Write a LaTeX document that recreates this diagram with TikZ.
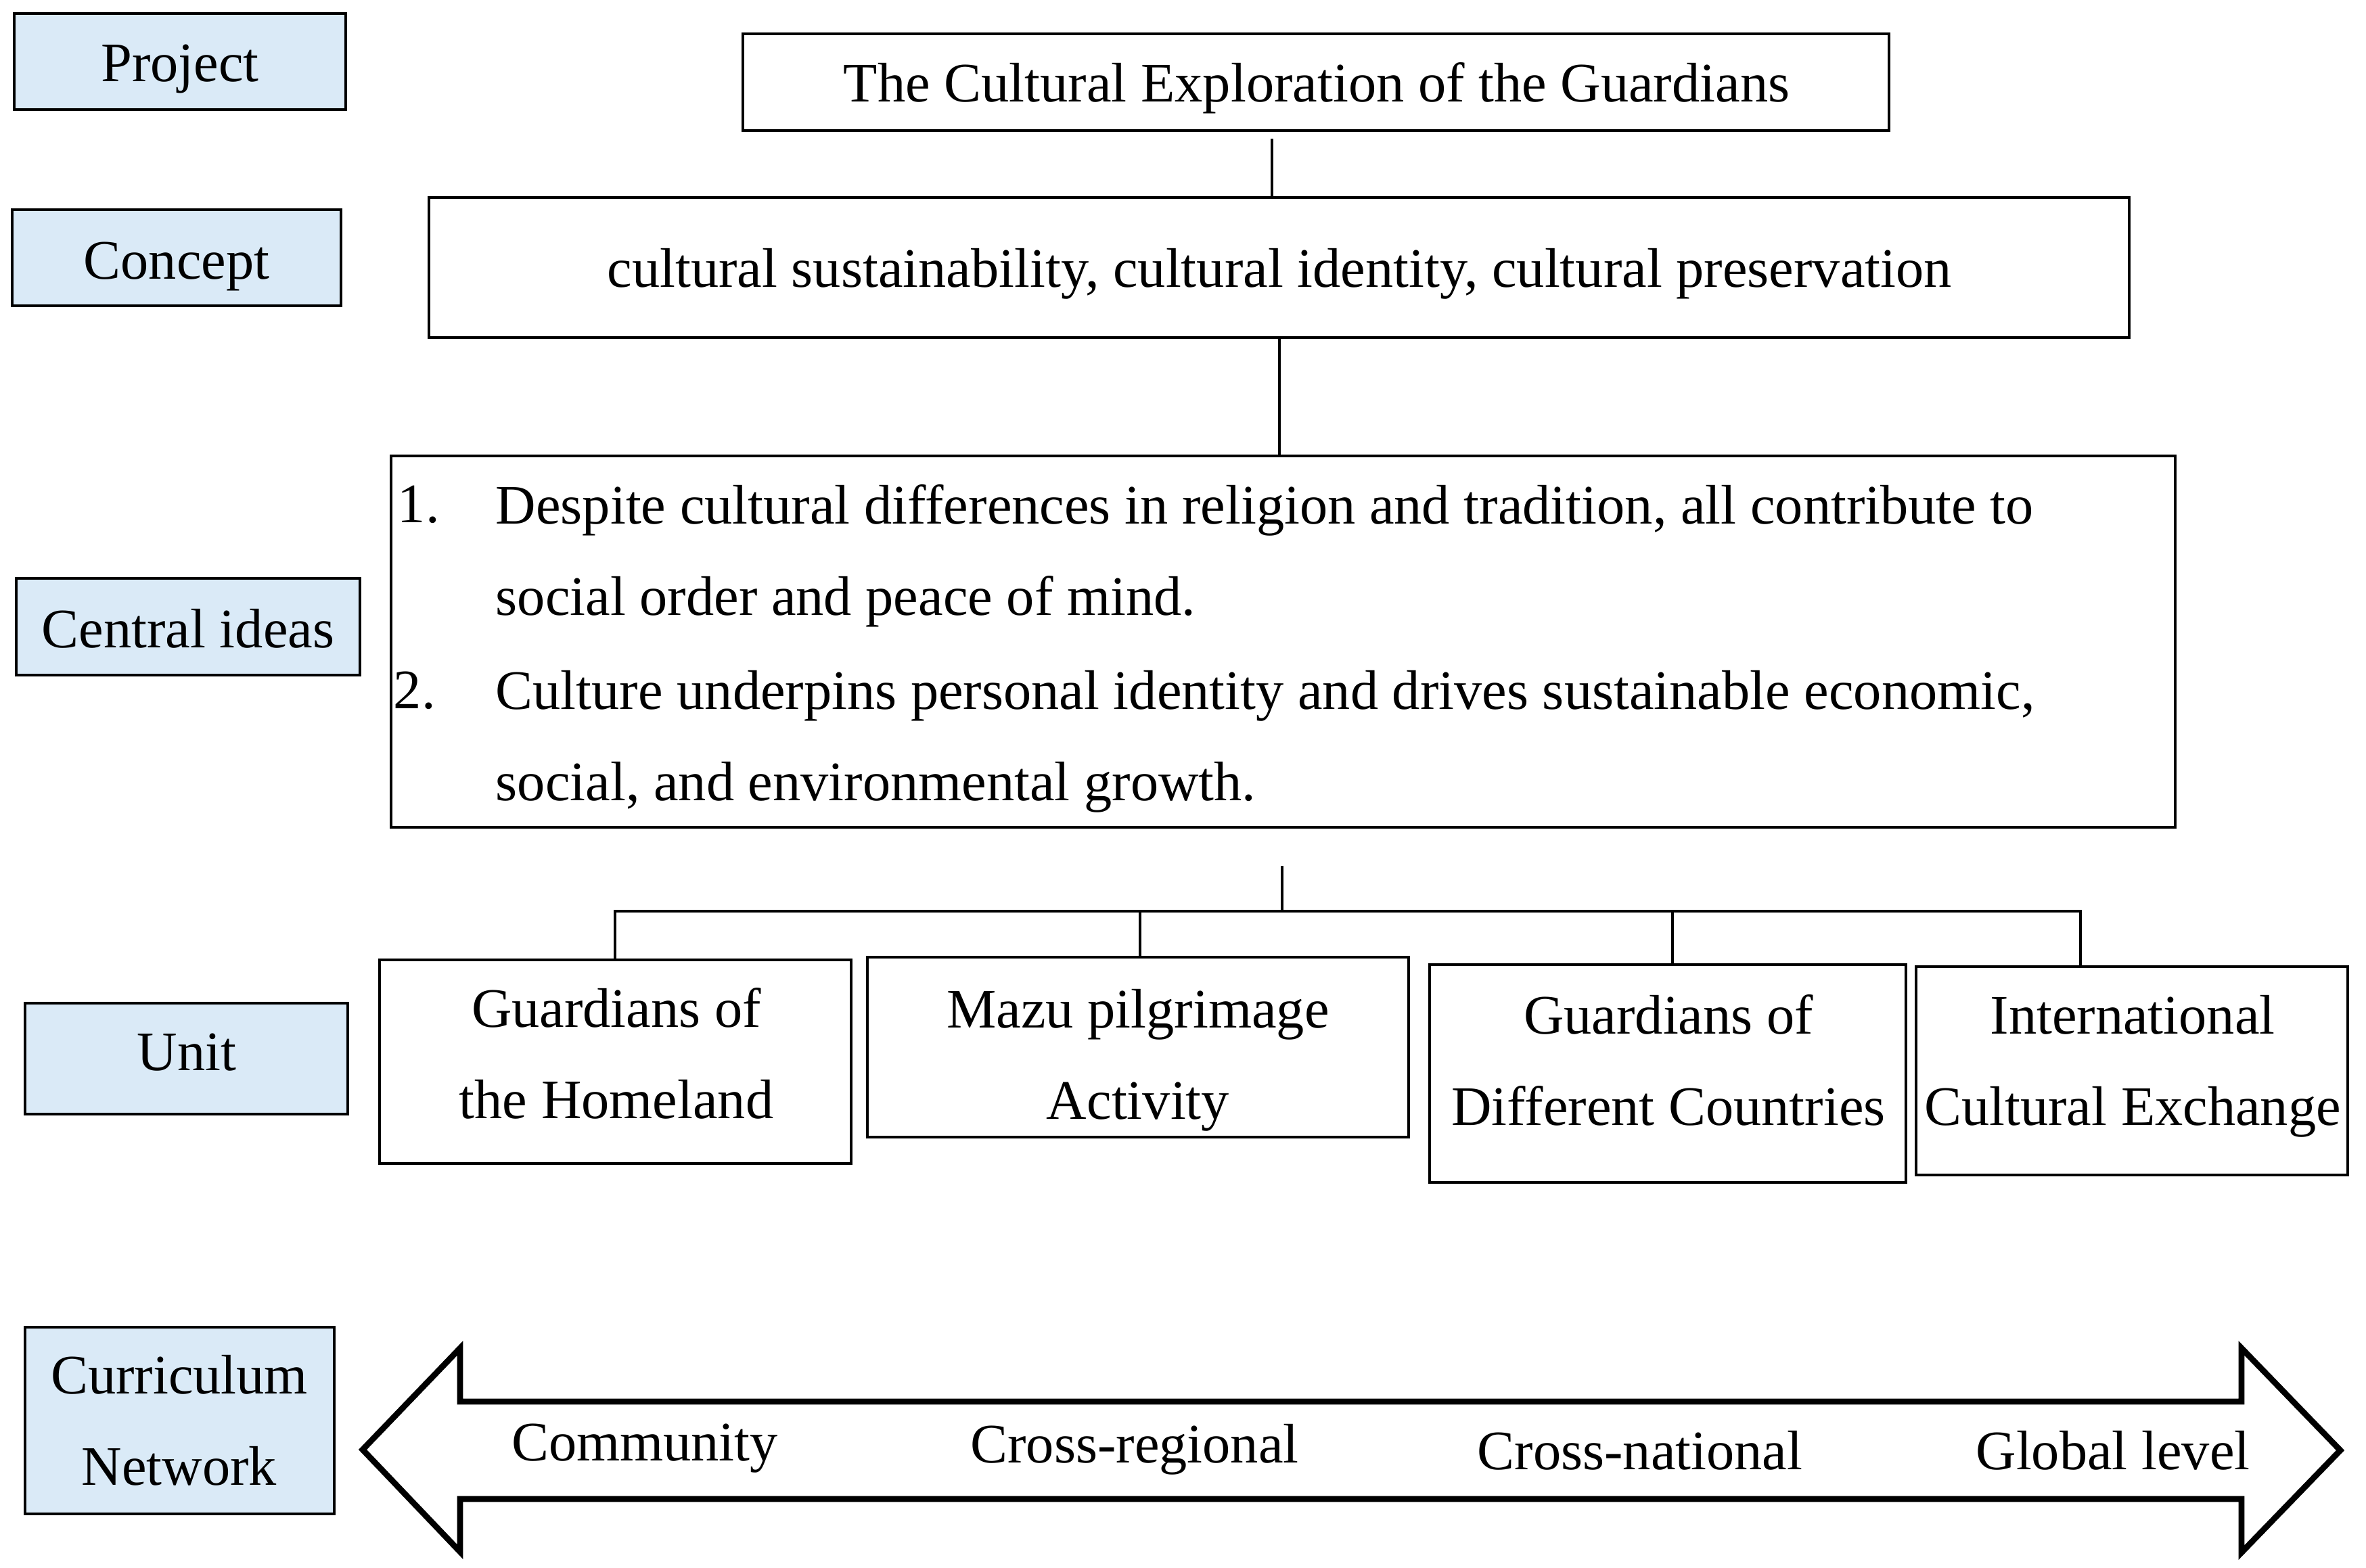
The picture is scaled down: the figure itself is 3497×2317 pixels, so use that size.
\documentclass[tikz,border=0pt]{standalone}
\usepackage{fontspec}
\setmainfont{Liberation Serif}
\usetikzlibrary{fit}
\definecolor{labblue}{HTML}{DAEAF7}
\begin{document}
\begin{tikzpicture}[x=0.25pt,y=-0.25pt,
  every node/.style={font=\fontsize{20.6pt}{33.75pt}\selectfont},
  labbox/.style={draw=black, line width=1pt, fill=labblue, inner sep=0pt},
  conbox/.style={draw=black, line width=1pt, fill=white, inner sep=0pt},
  txt/.style={anchor=base, inner sep=0pt, align=center},
  ltxt/.style={anchor=base west, inner sep=0pt, align=left},
  conn/.style={line width=1pt},
  bigarrow/.style={line width=2.2pt, line join=miter, fill=white}]
\fill[white] (0,0) rectangle (3497,2317);
\useasboundingbox (0,0) rectangle (3497,2317);

% level labels
\node[labbox, fit={(21,20)(511,162)}] (labproject) {};
\node[txt] (tproject) at (266,120) {Project};
\node[labbox, fit={(18,310)(504,452)}] (labconcept) {};
\node[txt] (tconcept) at (261,412) {Concept};
\node[labbox, fit={(24,855)(532,998)}] (labideas) {};
\node[txt] (tideas) at (278,957) {Central ideas};
\node[labbox, fit={(37,1483)(514,1647)}] (labunit) {};
\node[txt] (tunit) at (276,1582) {Unit};
\node[labbox, fit={(37,1962)(494,2238)}] (labnet) {};
% base anchor of a two-line node = baseline of its last line
\node[txt] (tnet) at (265,2195) {Curriculum\\Network};

% content boxes
\node[conbox, fit={(1098,50)(2792,193)}] (title) {};
\node[txt] (ttitle) at (1946,150) {The Cultural Exploration of the Guardians};
\node[conbox, fit={(634,292)(3147,499)}] (concept) {};
\node[txt] (tconceptc) at (1891,424) {cultural sustainability, cultural identity, cultural preservation};
\node[conbox, fit={(578,674)(3215,1223)}] (ideas) {};
\node[ltxt] (n1) at (587,772) {1.};
\node[ltxt] (i1) at (732,909) {Despite cultural differences in religion and tradition, all contribute to\\social order and peace of mind.};
\node[ltxt] (n2) at (581,1047) {2.};
\node[ltxt] (i2) at (732,1183) {Culture underpins personal identity and drives sustainable economic,\\social, and environmental growth.};

\node[conbox, fit={(561,1419)(1258,1720)}] (homeland) {};
\node[txt] (thomeland) at (911,1653) {Guardians of\\the Homeland};
\node[conbox, fit={(1282,1415)(2082,1681)}] (mazu) {};
\node[txt] (tmazu) at (1682,1654) {Mazu pilgrimage\\Activity};
\node[conbox, fit={(2113,1426)(2817,1748)}] (gdc) {};
\node[txt] (tgdc) at (2466,1663) {Guardians of\\Different Countries};
\node[conbox, fit={(2832,1429)(3470,1737)}] (ice) {};
\node[txt] (tice) at (3152,1663) {International\\Cultural Exchange};

% connectors
\coordinate (c1) at (1880,205);
\draw[conn] (c1) -- (c1 |- concept.north);
\coordinate (c2) at (1891,499);
\draw[conn] (concept.south -| c2) -- (ideas.north -| c2);
\coordinate (c3) at (1895,1280);
\coordinate (bus) at (1895,1347);
\draw[conn] (c3) -- (bus);
\coordinate (b1) at (909,1347);
\coordinate (b2) at (1685,1347);
\coordinate (b3) at (2472,1347);
\coordinate (b4) at (3075,1347);
\draw[conn] (b1 |- homeland.north) -- (b1) -- (b4) -- (b4 |- ice.north);
\draw[conn] (b2) -- (b2 |- mazu.north);
\draw[conn] (b3) -- (b3 |- gdc.north);

% curriculum network double arrow
\draw[bigarrow] (536,2143) -- (680,1993) -- (680,2072) -- (3313,2072) -- (3313,1993)
  -- (3459,2144) -- (3313,2295) -- (3313,2216) -- (680,2216) -- (680,2294) -- cycle;
\node[txt] (tcommunity) at (953,2159) {Community};
\node[txt] (tregional) at (1677,2162) {Cross-regional};
\node[txt] (tnational) at (2424,2172) {Cross-national};
\node[txt] (tglobal) at (3123,2172) {Global level};
\end{tikzpicture}
\end{document}
